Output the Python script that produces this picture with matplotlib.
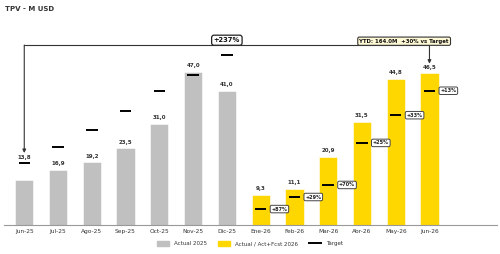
import numpy as np
import matplotlib.pyplot as plt
from matplotlib.patches import Patch
from matplotlib.lines import Line2D

months = ['Jun-25', 'Jul-25', 'Ago-25', 'Sep-25', 'Oct-25', 'Nov-25', 'Dic-25',
          'Ene-26', 'Feb-26', 'Mar-26', 'Abr-26', 'May-26', 'Jun-26']
actual_2025 = [13.8, 16.9, 19.2, 23.5, 31.0, 47.0, 41.0]
actual_2026 = [9.3, 11.1, 20.9, 31.5, 44.8, 46.5]
target = [19.1, 24.0, 29.1, 35.0, 41.2, 46.1, 52.2,
          4.9, 8.6, 12.3, 25.2, 33.7, 41.2]
vs_target = ['+87%', '+29%', '+70%', '+25%', '+33%', '+13%']
growth_label = '+237%'
ytd_label = 'YTD: 164.0M  +30% vs Target'

GREY = '#C0C0C0'
YELLOW = '#FFD700'

values = actual_2025 + actual_2026
x = np.arange(len(months))
n25 = len(actual_2025)

fig = plt.figure(figsize=(5, 2.54), dpi=100)
ax = fig.add_axes([0.008, 0.114, 0.986, 0.77])

ax.bar(x[:n25], actual_2025, width=0.54, color=GREY, edgecolor='white', lw=0.4)
ax.bar(x[n25:], actual_2026, width=0.54, color=YELLOW, edgecolor='white', lw=0.4)
ax.hlines(target, x - 0.17, x + 0.17, color='black', lw=1.4, zorder=3)

# value labels
for i, v in enumerate(values):
    y = v + 1.2
    if i == 0:
        y = target[0] + 1.0  # moved above the target dash
    ax.text(x[i], y, ('%.1f' % v).replace('.', ','), ha='center', va='bottom',
            fontsize=4.0, color='#333333', fontweight='bold')

# % vs target boxes for 2026
for j, lab in enumerate(vs_target):
    i = n25 + j
    ax.text(x[i] + 0.32, target[i], lab, ha='left', va='center', fontsize=3.6,
            fontweight='bold', color='#222222',
            bbox=dict(boxstyle='round,pad=0.25,rounding_size=0.3', fc='white',
                      ec='#444444', lw=0.7))

# growth bracket Jun-25 -> Jun-26
yb = 55.2
first, last = 0, len(months) - 1
ax.plot([x[first], x[last]], [yb, yb], color='#333333', lw=0.8)
ax.annotate('', xy=(x[first], target[0] + 3.0), xytext=(x[first], yb),
            arrowprops=dict(arrowstyle='-|>', color='#333333', lw=0.8,
                            mutation_scale=5, shrinkA=0, shrinkB=0))
ax.annotate('', xy=(x[last], values[last] + 3.0), xytext=(x[last], yb),
            arrowprops=dict(arrowstyle='-|>', color='#333333', lw=0.8,
                            mutation_scale=5, shrinkA=0, shrinkB=0))
ax.text((x[first] + x[last]) / 2, yb + 1.5, growth_label, ha='center', va='center',
        fontsize=4.9, fontweight='bold', color='#111111',
        bbox=dict(boxstyle='round,pad=0.3,rounding_size=0.35', fc='white',
                  ec='#222222', lw=0.9))
ax.text(x[last] - 0.75, yb + 1.2, ytd_label, ha='center', va='center',
        fontsize=3.9, fontweight='bold', color='#111111',
        bbox=dict(boxstyle='round,pad=0.3,rounding_size=0.3', fc='#FFF9D6',
                  ec='#333333', lw=0.8))

ax.set_xlim(-0.6, 14.0)
ax.set_ylim(0, 60)
ax.set_xticks(x)
ax.set_xticklabels(months, fontsize=4.2, color='#333333')
ax.tick_params(axis='x', length=0, pad=3)
ax.set_yticks([])
for s in ['top', 'left', 'right']:
    ax.spines[s].set_visible(False)
ax.spines['bottom'].set_color('#999999')
ax.spines['bottom'].set_linewidth(0.8)

fig.text(0.01, 0.975, 'TPV - M USD', ha='left', va='top', fontsize=5.0,
         fontweight='bold', color='#333333')

handles = [Patch(color=GREY, label='Actual 2025'),
           Patch(color=YELLOW, label='Actual / Act+Fcst 2026'),
           Line2D([0], [0], color='black', lw=1.4, label='Target')]
fig.legend(handles=handles, loc='center', bbox_to_anchor=(0.5, 0.04), ncol=3,
           frameon=False, fontsize=4.0, handlelength=2.2, handleheight=0.8,
           handletextpad=0.9, columnspacing=2.0, labelcolor='#333333')

fig.savefig('out.png', dpi=100)
